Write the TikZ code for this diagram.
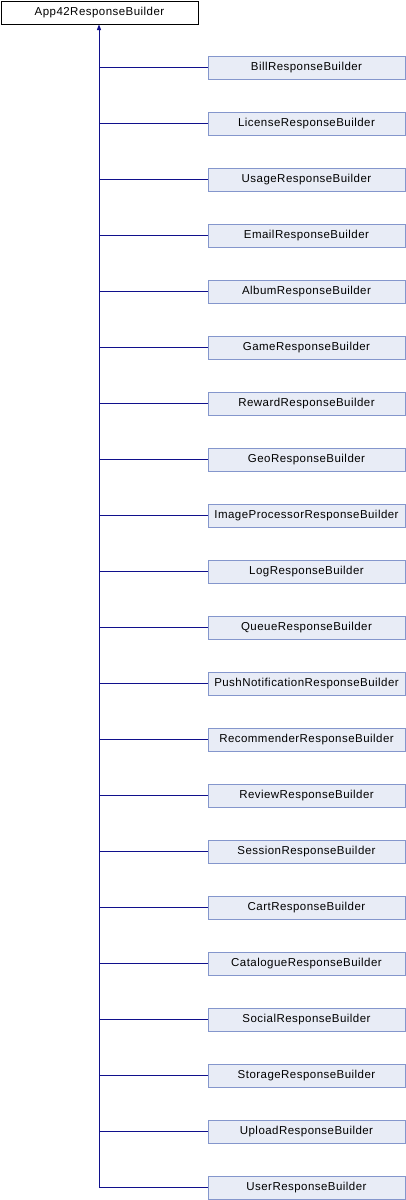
\documentclass[tikz,border=0pt]{standalone}
\usepackage{fontspec}
\setmainfont{Liberation Sans}
\usetikzlibrary{arrows.meta}
\definecolor{edgeblue}{RGB}{16,16,140}
\definecolor{boxfill}{RGB}{232,236,246}
\definecolor{boxline}{RGB}{132,150,204}
\tikzset{
  x=1pt,y=-1pt,
  txt/.style={font=\fontsize{11.5}{13}\selectfont\addfontfeature{LetterSpace=4}},
  basebox/.style={txt,draw=black,fill=white,line width=1pt,minimum width=197pt,minimum height=23pt,inner sep=0pt,anchor=north west},
  childbox/.style={txt,draw=boxline,fill=boxfill,line width=1pt,minimum width=197pt,minimum height=23pt,inner sep=0pt},
  inh/.style={draw=edgeblue,line width=1pt},
}
\begin{document}
\begin{tikzpicture}
\useasboundingbox (0,0) rectangle (406,1200);
\node[basebox] (base) at (0.5,0.5) {App42ResponseBuilder};
\coordinate (trunk) at (99,1188);
\foreach \name [count=\i from 0] in {Bill,License,Usage,Email,Album,Game,Reward,Geo,ImageProcessor,Log,Queue,PushNotification,Recommender,Review,Session,Cart,Catalogue,Social,Storage,Upload,User}{
  \node[childbox] (c\i) at (306.5,{67.5+56*\i}) {\name ResponseBuilder};
  \draw[inh] (c\i.west) -- (99,{67.5+56*\i});
}
\draw[inh,-{Triangle[width=4pt,length=5.5pt]}] (trunk) -- (base.south -| trunk);
\end{tikzpicture}
\end{document}
